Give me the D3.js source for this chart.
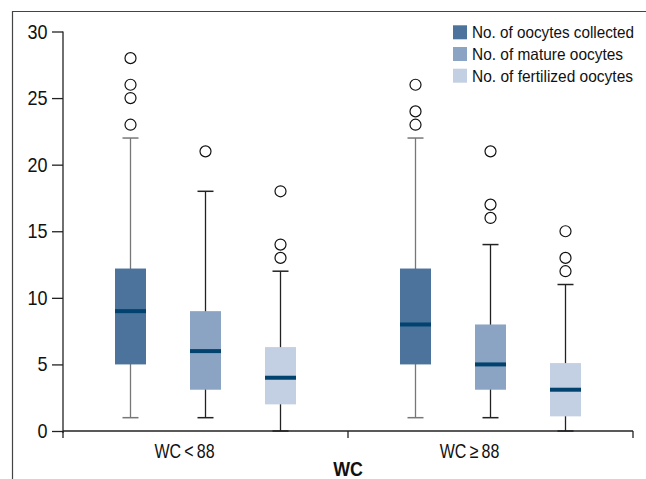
<!DOCTYPE html>
<html><head><meta charset="utf-8">
<script src="https://cdn.jsdelivr.net/npm/d3@7"></script>
<style>body{margin:0;background:#fff}svg{display:block}text{font-family:"Liberation Sans",Arial,sans-serif}</style>
</head><body><svg id="c" width="646" height="479"></svg>
<script>
const groups = ["WC\u2009<\u200988", "WC\u2009\u2265\u200988"];
const series = ["No. of oocytes collected", "No. of mature oocytes", "No. of fertilized oocytes"];
const colors = ["#4b739c", "#8ca4c3", "#c3cfe2"];
// [whiskerLow, Q1, median, Q3, whiskerHigh] per group per series
const collectedStats = [[1, 5, 9, 12.2, 22], [1, 5, 8, 12.2, 22]];
const matureStats = [[1, 3.1, 6, 9, 18], [1, 3.1, 5, 8, 14]];
const fertilizedStats = [[0, 2, 4, 6.3, 12], [0, 1.1, 3.1, 5.1, 11]];
const collectedOutliers = [[23, 25, 26, 28], [23, 24, 26]];
const matureOutliers = [[21], [16, 17, 21]];
const fertilizedOutliers = [[13, 14, 18], [12, 13, 15]];
const yTicks = [0, 5, 10, 15, 20, 25, 30];
const axisTitle = "WC";

const stats = [collectedStats, matureStats, fertilizedStats];
const outl = [collectedOutliers, matureOutliers, fertilizedOutliers];

const svg = d3.select("#c");
const m = {l: 63, r: 13, t: 31.5, b: 48};
const W = 646, H = 479;
const x0 = d3.scaleBand().domain(groups).range([m.l, W - m.r]).padding(0);
const x1 = d3.scalePoint().domain(series).range([0, x0.bandwidth()]).padding(0.9);
const y = d3.scaleLinear().domain([0, 30]).range([431, m.t]);

function ctext(sel, x, yy, txt, size, sx, anchor, weight) {
  return sel.append("text").attr("transform", `translate(${x},${yy}) scale(${sx},1)`)
    .attr("text-anchor", anchor || "start").attr("font-size", size)
    .attr("font-weight", weight || "normal").attr("fill", "#111").text(txt);
}

// frame
svg.append("path").attr("d", "M12.5,479V11.5H646").attr("fill", "none").attr("stroke", "#444").attr("stroke-width", 1.2);

// y axis
const ya = svg.append("g").attr("transform", `translate(${m.l},0)`)
  .call(d3.axisLeft(y).tickValues(yTicks).tickSize(11).tickFormat("").tickSizeOuter(0));
ya.select(".domain").attr("stroke", "#222").attr("stroke-width", 1.3).attr("d", `M0,${y(30)}V${y(0)+2}`);
ya.selectAll(".tick line").attr("stroke", "#222").attr("stroke-width", 1.3);
yTicks.forEach(t => ctext(svg, 47.5, y(t) + 7, String(t), 20, 0.9, "end"));

// x axis
const xa = svg.append("g").attr("transform", `translate(0,${y(0)})`);
xa.append("line").attr("x1", m.l).attr("x2", W - m.r).attr("stroke", "#222").attr("stroke-width", 1.5);
const bounds = [x0(groups[0]), x0(groups[1]), x0(groups[1]) + x0.bandwidth()];
xa.selectAll(".xt").data(bounds).join("line").attr("x1", d => d).attr("x2", d => d).attr("y1", 0).attr("y2", 7).attr("stroke", "#222").attr("stroke-width", 1.3);
groups.forEach(g => ctext(svg, x0(g) + x0.bandwidth() / 2 - 21, 458, g, 20, 0.8, "middle"));
ctext(svg, x0(groups[1]), 476, axisTitle, 21, 0.85, "middle", "bold");

const bw = 31, cap = 16;
groups.forEach((g, gi) => {
  series.forEach((s, si) => {
    const cx = x0(g) + x1(s);
    const [lo, q1, med, q3, hi] = stats[si][gi];
    const wc = si === 0 ? "#777" : "#222";
    const gg = svg.append("g");
    gg.append("line").attr("x1", cx).attr("x2", cx).attr("y1", y(hi)).attr("y2", y(lo)).attr("stroke", wc).attr("stroke-width", 1.3);
    [lo, hi].forEach(v => gg.append("line").attr("x1", cx - cap / 2).attr("x2", cx + cap / 2).attr("y1", y(v)).attr("y2", y(v)).attr("stroke", wc).attr("stroke-width", 1.5));
    gg.append("rect").attr("x", cx - bw / 2).attr("y", y(q3)).attr("width", bw).attr("height", y(q1) - y(q3)).attr("fill", colors[si]);
    gg.append("line").attr("x1", cx - bw / 2).attr("x2", cx + bw / 2).attr("y1", y(med)).attr("y2", y(med)).attr("stroke", "#02426f").attr("stroke-width", 4);
    gg.selectAll("circle").data(outl[si][gi]).join("circle").attr("cx", cx).attr("cy", d => y(d)).attr("r", 5.5)
      .attr("fill", "#fff").attr("stroke", "#111").attr("stroke-width", 1.2);
  });
});

// legend
const lg = svg.append("g");
const legendLen = [162, 151, 161];
series.forEach((s, i) => {
  const ly = 32.3 + i * 21.7;
  lg.append("rect").attr("x", 453).attr("y", ly - 7).attr("width", 14).attr("height", 14).attr("fill", colors[i]);
  lg.append("text").attr("x", 472).attr("y", ly + 6).attr("font-size", 16.5).attr("fill", "#111")
    .attr("textLength", legendLen[i]).attr("lengthAdjust", "spacingAndGlyphs").text(s);
});
</script></body></html>
